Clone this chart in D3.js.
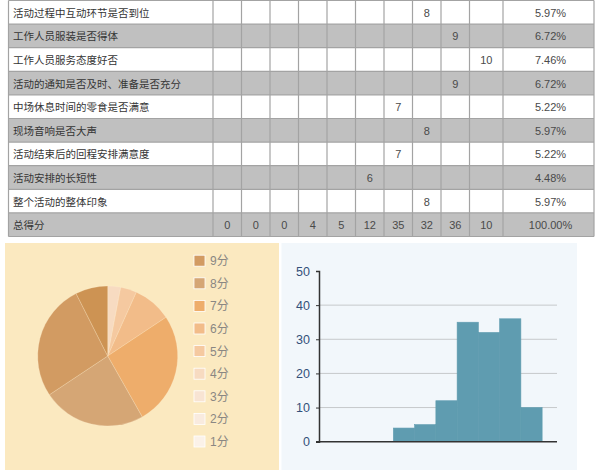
<!DOCTYPE html>
<html>
<head>
<meta charset="utf-8">
<script src="https://cdn.jsdelivr.net/npm/d3@7/dist/d3.min.js"></script>
<style>
  html, body { margin: 0; padding: 0; background: #ffffff; }
  svg { display: block; font-family: "Liberation Sans", "Noto Sans CJK SC", sans-serif; }
</style>
</head>
<body>
<svg id="chart" width="600" height="472"></svg>
<script>
// ---------- DATA ----------
const rowLabels = [
  "活动过程中互动环节是否到位",
  "工作人员服装是否得体",
  "工作人员服务态度好否",
  "活动的通知是否及时、准备是否充分",
  "中场休息时间的零食是否满意",
  "现场音响是否大声",
  "活动结束后的回程安排满意度",
  "活动安排的长短性",
  "整个活动的整体印象"
];
const rowScores = [8, 9, 10, 9, 7, 8, 7, 6, 8];
const rowPercents = ["5.97%", "6.72%", "7.46%", "6.72%", "5.22%", "5.97%", "5.22%", "4.48%", "5.97%"];
const totalLabel = "总得分";
const totalPercent = "100.00%";
const scores = [1, 2, 3, 4, 5, 6, 7, 8, 9, 10];
const scoreTotals = [0, 0, 0, 4, 5, 12, 35, 32, 36, 10];
const scoreColors = ["#fbf2e9", "#f9ebdf", "#f8e4d3", "#f7dbc1", "#f5c9a0", "#f2bc89", "#eead6b", "#d5a675", "#d29b62", "#cd9353"];
const legendScores = [9, 8, 7, 6, 5, 4, 3, 2, 1];
const legendSuffix = "分";
const yTicks = [0, 10, 20, 30, 40, 50];

// ---------- SETUP ----------
const svg = d3.select("#chart");

// ---------- TABLE ----------
const colEdges = [8.5, 213, 241.5, 270, 298.5, 327, 355.5, 384, 412.5, 441, 469.5, 503, 594];
const rowTop = 0.5, rowH = 23.6;
const rows = rowLabels.map((l, i) => ({label: l, score: rowScores[i], pct: rowPercents[i], total: false}));
rows.push({label: totalLabel, pct: totalPercent, total: true});

const yRow = d3.scaleLinear().domain([0, rows.length]).range([rowTop, rowTop + rowH * rows.length]);
const table = svg.append("g");
const rg = table.selectAll("g.row").data(rows).join("g").attr("class", "row");
rg.append("rect")
  .attr("x", colEdges[0]).attr("width", colEdges[colEdges.length - 1] - colEdges[0])
  .attr("y", (d, i) => yRow(i)).attr("height", rowH)
  .attr("fill", (d, i) => i % 2 === 0 ? "#ffffff" : "#c0c0c0");
rg.append("text")
  .attr("x", colEdges[0] + 4.5).attr("y", (d, i) => yRow(i) + rowH / 2 + 0.5)
  .attr("dominant-baseline", "central")
  .attr("font-size", 10.5).attr("fill", "#353535")
  .text(d => d.label);
rg.each(function(d, i) {
  const g = d3.select(this);
  scores.forEach((s, j) => {
    let txt = "";
    if (d.total) txt = String(scoreTotals[j]);
    else if (d.score === s) txt = String(s);
    if (txt) {
      g.append("text")
        .attr("x", (colEdges[j + 1] + colEdges[j + 2]) / 2)
        .attr("y", yRow(i) + rowH / 2 + 0.5)
        .attr("dominant-baseline", "central").attr("text-anchor", "middle")
        .attr("font-size", 11).attr("fill", "#4a4a4a").text(txt);
    }
  });
  g.append("text")
    .attr("x", (colEdges[11] + colEdges[12]) / 2 + 2)
    .attr("y", yRow(i) + rowH / 2 + 0.5)
    .attr("dominant-baseline", "central").attr("text-anchor", "middle")
    .attr("font-size", 11).attr("fill", "#4a4a4a").text(d.pct);
});
// grid lines
d3.range(rows.length + 1).forEach(i => {
  table.append("line")
    .attr("x1", colEdges[0]).attr("x2", colEdges[colEdges.length - 1])
    .attr("y1", yRow(i)).attr("y2", yRow(i))
    .attr("stroke", "#a3a3a3").attr("stroke-width", 1.2);
});
colEdges.forEach(x => {
  table.append("line")
    .attr("x1", x).attr("x2", x)
    .attr("y1", yRow(0)).attr("y2", yRow(rows.length))
    .attr("stroke", "#a3a3a3").attr("stroke-width", 1.2);
});

// ---------- PIE PANEL ----------
svg.append("rect").attr("x", 5).attr("y", 243).attr("width", 274).attr("height", 227)
  .attr("fill", "#fbe9c0");
const pie = d3.pie().sort(null).value(d => d.v);
const pieData = pie(scores.map((s, i) => ({s, v: scoreTotals[i], c: scoreColors[i]})));
const arc = d3.arc().innerRadius(0).outerRadius(70);
svg.append("g").attr("transform", "translate(107.7,356)")
  .selectAll("path").data(pieData.filter(d => d.data.v > 0)).join("path")
  .attr("d", arc).attr("fill", d => d.data.c)
  .attr("stroke", "rgba(255,240,215,0.45)").attr("stroke-width", 0.5);

const colorOf = d3.scaleOrdinal().domain(scores).range(scoreColors);
const yLeg = d3.scalePoint().domain(legendScores).range([260.7, 441.5]);
const lg = svg.append("g").selectAll("g").data(legendScores).join("g")
  .attr("transform", d => `translate(194,${yLeg(d)})`);
lg.append("rect").attr("x", 0).attr("y", -5.5).attr("width", 11).attr("height", 11)
  .attr("fill", d => colorOf(d)).attr("stroke", "#ffffff").attr("stroke-width", 0.8);
lg.append("text").attr("x", 16).attr("y", 0.5).attr("dominant-baseline", "central")
  .attr("font-size", 12).attr("fill", "#8a8783").text(d => d + legendSuffix);

// ---------- HISTOGRAM PANEL ----------
svg.append("rect").attr("x", 281.5).attr("y", 243).attr("width", 295.5).attr("height", 227)
  .attr("fill", "#f2f7fb");
const x = d3.scaleLinear().domain([0, 11.2]).range([319, 557]);
const y = d3.scaleLinear().domain([0, 50]).range([441.7, 271]);
const hg = svg.append("g");
hg.selectAll("line.grid").data(yTicks.filter(t => t > 0 && t < 50)).join("line")
  .attr("class", "grid")
  .attr("x1", x(0)).attr("x2", x(11.2)).attr("y1", d => y(d)).attr("y2", d => y(d))
  .attr("stroke", "#c6c9cb").attr("stroke-width", 1);
hg.selectAll("rect.bar").data(scores.map((s, i) => ({s, v: scoreTotals[i]})).filter(d => d.v > 0)).join("rect")
  .attr("class", "bar")
  .attr("x", d => x(d.s - 0.5)).attr("width", d => x(d.s + 0.5) - x(d.s - 0.5))
  .attr("y", d => y(d.v)).attr("height", d => y(0) - y(d.v))
  .attr("fill", "#5f9cb0").attr("stroke", "#5f9cb0").attr("stroke-width", 0.6);
const yAxis = d3.axisLeft(y).tickValues(yTicks).tickSize(3).tickPadding(6);
const ya = hg.append("g").attr("transform", `translate(${x(0)},0)`).call(yAxis);
ya.select(".domain").attr("stroke", "#333").attr("stroke-width", 1.5);
ya.selectAll(".tick line").attr("stroke", "#333");
ya.selectAll(".tick text").attr("font-size", 12.5).attr("fill", "#34507a")
  .attr("font-family", "\"Liberation Sans\", sans-serif");
hg.append("line").attr("x1", x(0) - 3).attr("x2", x(11.2)).attr("y1", y(0)).attr("y2", y(0))
  .attr("stroke", "#333").attr("stroke-width", 1.5);
</script>
</body>
</html>
